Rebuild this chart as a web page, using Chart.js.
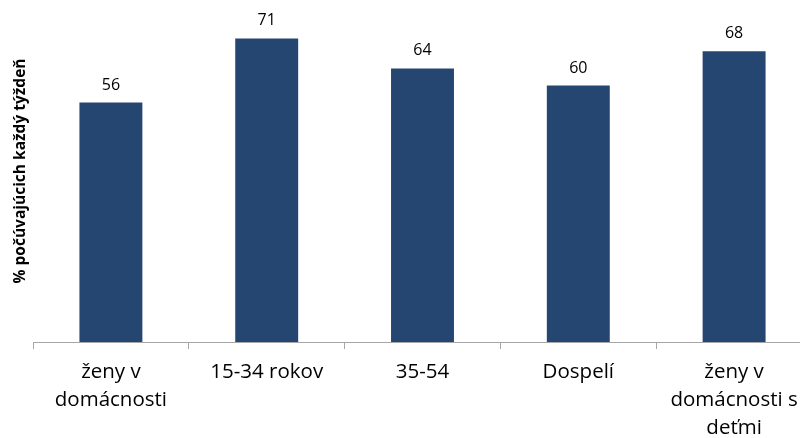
<!DOCTYPE html>
<html>
<head>
<meta charset="utf-8">
<script src="https://cdn.jsdelivr.net/npm/chart.js@4.4.1/dist/chart.umd.min.js"></script>
<style>
  html, body { margin: 0; padding: 0; background: #fff; overflow: hidden; }
  #wrap { position: relative; width: 812px; height: 438px; }
</style>
</head>
<body>
<div id="wrap"><canvas id="c" width="812" height="438"></canvas></div>
<script>
const categories = [['ženy v', 'domácnosti'], '15-34 rokov', '35-54', 'Dospelí', ['ženy v', 'domácnosti s', 'deťmi']];
const values = [56, 71, 64, 60, 68];
const yTitle = '% počúvajúcich každý týždeň';

const labelPlugin = {
  id: 'valueLabels',
  afterDatasetsDraw(chart) {
    const ctx = chart.ctx;
    const meta = chart.getDatasetMeta(0);
    ctx.save();
    ctx.font = '16px "Open Sans"';
    ctx.fillStyle = '#000';
    ctx.textAlign = 'center';
    ctx.textBaseline = 'alphabetic';
    meta.data.forEach((bar, i) => {
      ctx.fillText(String(values[i]), bar.x, bar.y - 13);
    });
    ctx.restore();
  }
};

new Chart(document.getElementById('c'), {
  type: 'bar',
  data: {
    labels: categories,
    datasets: [{
      data: values,
      backgroundColor: '#264672',
      borderWidth: 0,
      barPercentage: 0.404,
      categoryPercentage: 1.0
    }]
  },
  options: {
    responsive: false,
    animation: false,
    layout: { padding: { top: 0, right: 0, bottom: 0, left: 0 } },
    plugins: { legend: { display: false }, tooltip: { enabled: false } },
    scales: {
      x: {
        offset: true,
        grid: { display: true, offset: true, drawOnChartArea: false, drawTicks: true, tickLength: 7, color: '#a6a6a6', lineWidth: 1 },
        border: { display: true, color: '#a6a6a6', width: 1 },
        ticks: { color: '#000', font: { family: '"Open Sans"', size: 20.5, lineHeight: 1.37 }, padding: 9, maxRotation: 0, autoSkip: false },
        afterFit(scale) { scale.height = 96; }
      },
      y: {
        min: 0,
        max: 80,
        grid: { display: false },
        border: { display: false },
        ticks: { display: false },
        title: { display: true, text: yTitle, color: '#000', font: { family: '"Open Sans"', size: 15.5, weight: 'bold' }, padding: { top: 11, bottom: 0 } },
        afterFit(scale) { scale.width = 33; }
      }
    }
  },
  plugins: [labelPlugin]
});
</script>
</body>
</html>
